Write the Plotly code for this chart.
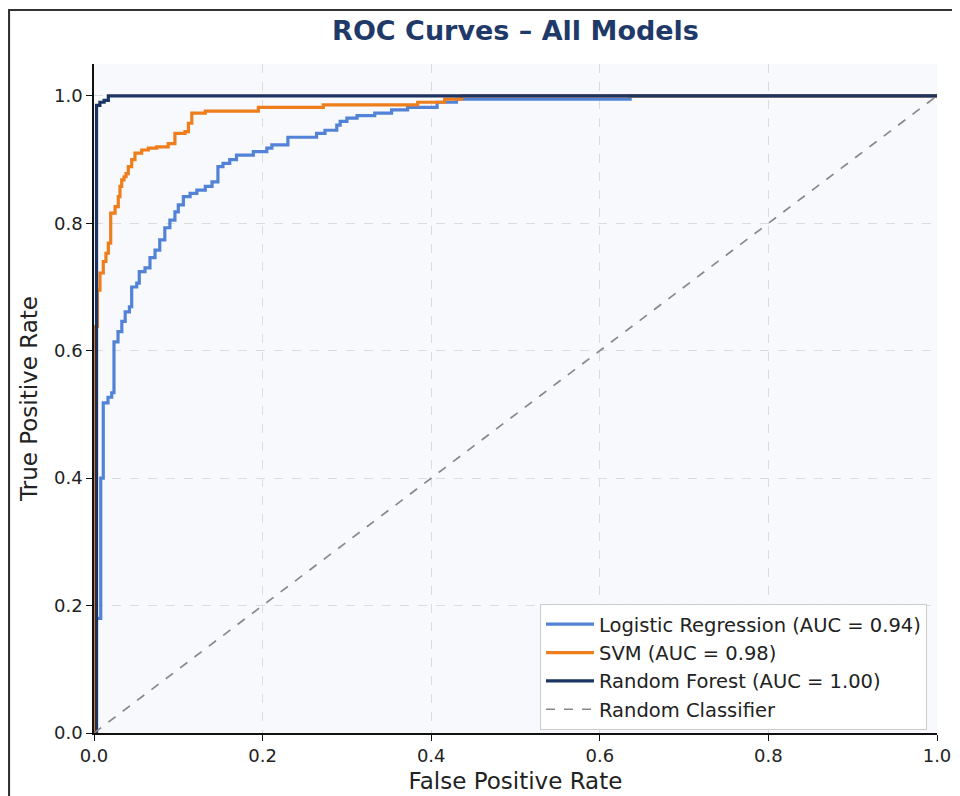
import plotly.graph_objects as go

# ---------------- data ----------------
lr_fpr = [0.0, 0.0, 0.0024, 0.008, 0.011, 0.0166, 0.021, 0.0237, 0.0285, 0.033, 0.037, 0.042,
          0.0447, 0.0507, 0.0537, 0.0605, 0.0664, 0.0724, 0.078, 0.084, 0.090, 0.096, 0.100,
          0.106, 0.114, 0.122, 0.132, 0.140, 0.147, 0.153, 0.161, 0.169, 0.189, 0.205, 0.211,
          0.230, 0.264, 0.274, 0.288, 0.292, 0.300, 0.312, 0.333, 0.353, 0.372, 0.407, 0.43,
          0.636, 1.0]
lr_tpr = [0.0, 0.05, 0.18, 0.40, 0.518, 0.527, 0.534, 0.614, 0.63, 0.646, 0.661, 0.669,
          0.70, 0.706, 0.724, 0.73, 0.746, 0.758, 0.774, 0.793, 0.805, 0.818, 0.829,
          0.842, 0.847, 0.852, 0.858, 0.865, 0.889, 0.894, 0.900, 0.907, 0.9125, 0.918, 0.923,
          0.935, 0.941, 0.946, 0.954, 0.96, 0.965, 0.969, 0.973, 0.978, 0.982, 0.990, 0.995,
          1.0, 1.0]

svm_fpr = [0.0, 0.0, 0.004, 0.0071, 0.011, 0.0142, 0.017, 0.0198, 0.025, 0.0288, 0.0308, 0.0329,
           0.0356, 0.038, 0.0407, 0.0447, 0.0486, 0.0566, 0.0644, 0.0744, 0.088, 0.096, 0.108,
           0.112, 0.116, 0.132, 0.195, 0.272, 0.384, 0.416, 0.436, 1.0]
svm_tpr = [0.0, 0.638, 0.695, 0.722, 0.74, 0.753, 0.769, 0.816, 0.826, 0.842, 0.858, 0.868,
           0.873, 0.878, 0.889, 0.90, 0.91, 0.915, 0.918, 0.92, 0.925, 0.941, 0.944,
           0.957, 0.973, 0.976, 0.982, 0.986, 0.99, 0.995, 1.0, 1.0]

rf_fpr = [0.0, 0.003, 0.003, 0.007, 0.012, 0.017, 1.0]
rf_tpr = [0.0, 0.05, 0.985, 0.99, 0.993, 1.0, 1.0]

diag = [0.0, 1.0]

names = ["Logistic Regression (AUC = 0.94)", "SVM (AUC = 0.98)",
         "Random Forest (AUC = 1.00)", "Random Classifier"]
colors = ["#5283d6", "#ee7d1c", "#1b3461", "#888888"]
ticks = [0.0, 0.2, 0.4, 0.6, 0.8, 1.0]
tick_text = ["0.0", "0.2", "0.4", "0.6", "0.8", "1.0"]

# ---------------- figure ----------------
FONT = "DejaVu Sans"
fig = go.Figure()
for fx, ty, nm, c in [(lr_fpr, lr_tpr, names[0], colors[0]),
                      (svm_fpr, svm_tpr, names[1], colors[1]),
                      (rf_fpr, rf_tpr, names[2], colors[2])]:
    fig.add_trace(go.Scatter(x=fx, y=ty, mode="lines", name=nm,
                             line=dict(color=c, width=3.2, shape="hv")))
fig.add_trace(go.Scatter(x=diag, y=diag, mode="lines", name=names[3],
                         line=dict(color=colors[3], width=1.7, dash="dash")))

OFF = 8                      # page body margin offset
W, H = 960 - OFF, 796 - OFF  # figure size
# plot area in page pixels: x 94..937, y 64..733
L = 94 - OFF
R = W - (937 - OFF)
T = 64 - OFF
B = H - (733 - OFF)
pw, ph = W - L - R, H - T - B


def px_x(p):   # page px -> paper
    return (p - OFF - L) / pw


def px_y(p):
    return (H - B - (p - OFF)) / ph


fig.update_layout(
    width=W, height=H,
    margin=dict(l=L, r=R, t=T, b=B, autoexpand=False),
    paper_bgcolor="white",
    plot_bgcolor="#f7f9fd",
    font=dict(family=FONT, size=18, color="#222222"),
    title=dict(text="<b>ROC Curves – All Models</b>", x=0.5, xref="paper",
               xanchor="center", y=(H - (31 - OFF)) / H, yanchor="middle",
               font=dict(family=FONT, size=27, color="#1f3a68")),
    showlegend=True,
    legend=dict(x=px_x(927), y=px_y(730), xanchor="right", yanchor="bottom",
                bgcolor="rgba(255,255,255,0.95)", bordercolor="#cccccc", borderwidth=1,
                font=dict(family=FONT, size=19.5, color="#222222"),
                tracegroupgap=0, itemwidth=48),
    xaxis=dict(range=[0, 1.0], tickvals=ticks, ticktext=tick_text,
               showgrid=True, gridcolor="#dcdcdc", griddash="dash", gridwidth=1,
               zeroline=False, showline=True, linecolor="#111111", linewidth=1.5,
               ticks="outside", ticklen=6, tickwidth=1.3, tickcolor="#111111",
               tickfont=dict(size=18, color="#222222"),
               title=dict(text="False Positive Rate", standoff=8,
                          font=dict(size=23, color="#222222"))),
    yaxis=dict(range=[0, 1.05], tickvals=ticks, ticktext=tick_text,
               showgrid=True, gridcolor="#dcdcdc", griddash="dash", gridwidth=1,
               zeroline=False, showline=True, linecolor="#111111", linewidth=1.5,
               ticks="outside", ticklen=6, tickwidth=1.3, tickcolor="#111111",
               tickfont=dict(size=18, color="#222222"),
               title=dict(text="True Positive Rate", standoff=10,
                          font=dict(size=23, color="#222222"))),
    shapes=[
        dict(type="line", xref="paper", yref="paper",
             x0=px_x(7), x1=px_x(975), y0=px_y(10), y1=px_y(10),
             line=dict(color="#333333", width=2.2)),
        dict(type="line", xref="paper", yref="paper",
             x0=px_x(9), x1=px_x(9), y0=px_y(10), y1=px_y(810),
             line=dict(color="#333333", width=2.2)),
    ],
)

fig.write_html("out.html")
